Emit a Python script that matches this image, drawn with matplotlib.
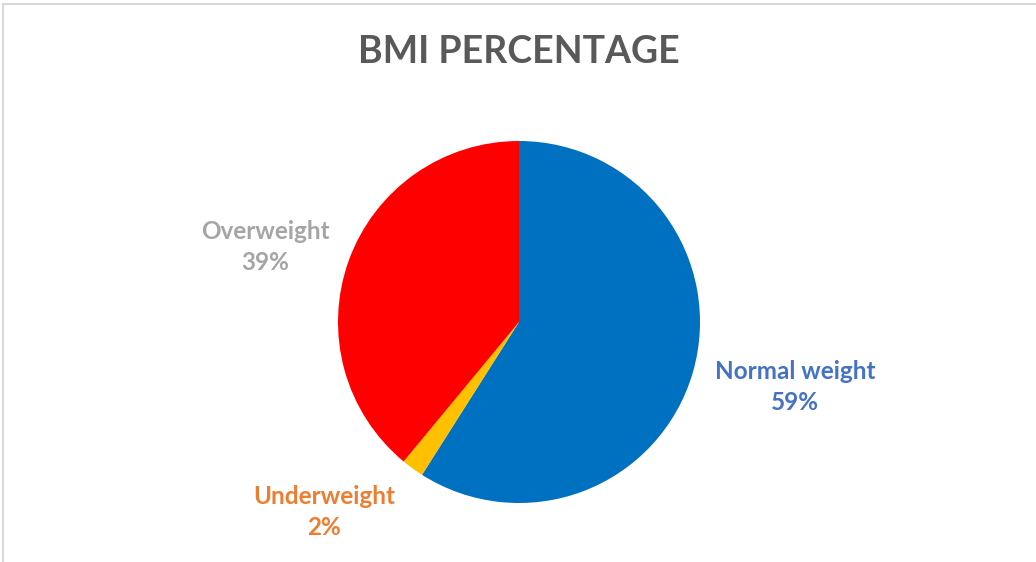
import matplotlib
matplotlib.use("Agg")
import matplotlib.pyplot as plt
from matplotlib.patches import Rectangle

# data
labels = ["Normal weight", "Underweight", "Overweight"]
values = [59, 2, 39]
wedge_colors = ["#0070C0", "#FFC000", "#FF0000"]
label_colors = ["#4472C4", "#ED7D31", "#A5A5A5"]
label_pos = [(1.525, -0.36), (-1.077, -1.05), (-1.403, 0.414)]

plt.rcParams["font.family"] = ["Lato", "DejaVu Sans"]

W, H = 1036, 562
fig = plt.figure(figsize=(W / 100, H / 100), dpi=100)
fig.patch.set_facecolor("white")

# chart frame border (only top/left visible in the crop)
fig.add_artist(Rectangle((3 / W, -0.1), 1.2, (H - 4) / H + 0.1, transform=fig.transFigure,
                         fill=False, edgecolor="#D9D9D9", linewidth=1.5))

cx, cy, r = 519, 322, 181
ax = fig.add_axes([(cx - r) / W, (H - cy - r) / H, 2 * r / W, 2 * r / H])
ax.pie(values, colors=wedge_colors, startangle=90, counterclock=False,
       radius=1, wedgeprops=dict(linewidth=0))
ax.set_xlim(-1, 1)
ax.set_ylim(-1, 1)
ax.set_aspect("equal")
ax.axis("off")

for lab, v, c, (x, y) in zip(labels, values, label_colors, label_pos):
    ax.text(x, y, f"{lab}\n{v}%", color=c, fontsize=17.5, fontweight="bold",
            ha="center", va="center", linespacing=1.4, clip_on=False)

fig.text(519 / W, 1 - 52 / H, "BMI PERCENTAGE", ha="center", va="center",
         fontsize=27, fontweight="bold", color="#595959")

fig.savefig("out.png", dpi=100)
